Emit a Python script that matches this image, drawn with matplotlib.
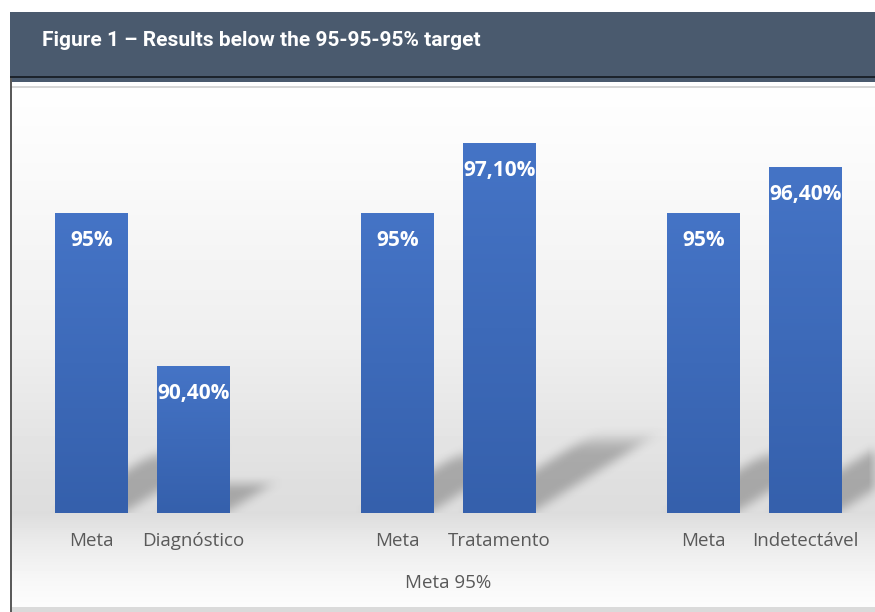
import numpy as np
import matplotlib
matplotlib.use('Agg')
import matplotlib.pyplot as plt
from matplotlib.colors import LinearSegmentedColormap
from matplotlib.patches import Rectangle

# 数据
title = 'Figure 1 – Results below the 95-95-95% target'
categories = ['Meta', 'Diagnóstico', 'Meta', 'Tratamento', 'Meta', 'Indetectável']
values = [95, 90.4, 95, 97.1, 95, 96.4]
value_labels = ['95%', '90,40%', '95%', '97,10%', '95%', '96,40%']
axis_title = 'Meta 95%'
y_base = 86

W, H = 875, 612


def fx(x):
    return x / W


def fy(y):
    return 1 - y / H


def box(fig, x0, y0, x1, y1, color, z=1):
    fig.patches.append(Rectangle((fx(x0), fy(y1)), fx(x1) - fx(x0), fy(y0) - fy(y1),
                                 transform=fig.transFigure, color=color, lw=0, zorder=z))


def smooth(s):
    s = np.clip(s, 0, 1)
    return s * s * (3 - 2 * s)


def blur(img, k=13):
    # 简单的盒式模糊
    kern = np.ones(k) / k
    img = np.apply_along_axis(lambda r: np.convolve(r, kern, mode='same'), 1, img)
    img = np.apply_along_axis(lambda c: np.convolve(c, kern, mode='same'), 0, img)
    return img


fig = plt.figure(figsize=(W / 100, H / 100), dpi=100)
fig.patch.set_facecolor('white')

# 标题栏
box(fig, 10, 12, 875, 82, '#4a5a6e')
box(fig, 10, 75.5, 875, 78, '#1c232c')
box(fig, 10, 78, 12, 612, '#5a5a5a')
box(fig, 12, 85.5, 875, 88, '#d6d6d6')
box(fig, 12, 607, 875, 612, '#dadada')
fig.text(fx(42), fy(41), title, ha='left', va='center', color='white',
         fontweight='bold', family='Roboto', fontsize=15, zorder=5)

# 背景渐变
bg = fig.add_axes([fx(12), fy(607), fx(875) - fx(12), fy(88) - fy(607)], zorder=0)
bg.axis('off')
rows = np.arange(88, 607)
gray = np.interp(rows, [88, 200, 350, 480, 513, 540, 580, 607],
                 [254, 248, 238, 223, 221, 234, 247, 252])
bg.imshow(gray.reshape(-1, 1), cmap='gray', vmin=0, vmax=255, aspect='auto',
          extent=[0, 1, 0, 1])
bg.set_xlim(0, 1)
bg.set_ylim(0, 1)

# 主图
ax = fig.add_axes([fx(12), fy(513), fx(875) - fx(12), fy(88) - fy(513)], zorder=1)
ax.patch.set_alpha(0)
for s in ax.spines.values():
    s.set_visible(False)

positions = [3 * (i // 2) + i % 2 for i in range(len(values))]
width = 0.706
xlim = (-0.777, 7.683)
ylim = (y_base, y_base + 425 / 33.26)

# 阴影
nx, ny = 863, 425
X = np.linspace(xlim[0], xlim[1], nx)
Y = np.linspace(ylim[1], ylim[0], ny)
XX, YY = np.meshgrid(X, Y)
alpha = np.zeros_like(XX)
for p, v in zip(positions, values):
    h = v - y_base
    dx = 0.12 * h
    dy = 0.23 * h
    t = (YY - y_base) / dy
    u = (XX - (p - width / 2) - t * dx) / width
    a = (smooth((u + 0.1) / 0.3) * smooth((1.1 - u) / 0.3)
         * (1 - smooth((t - 0.7) / 0.3)) * (t >= 0))
    alpha = np.maximum(alpha, a)
alpha = blur(alpha)
shadow = np.zeros((ny, nx, 4))
shadow[..., :3] = 0.3
shadow[..., 3] = alpha * 0.38
ax.imshow(shadow, extent=[xlim[0], xlim[1], ylim[0], ylim[1]], aspect='auto', zorder=1)

# 柱子
bar_cmap = LinearSegmentedColormap.from_list('bar', ['#4574c6', '#3560ac'])
ax.bar(positions, [v - y_base for v in values], bottom=y_base, width=width,
       color='#3d68b8', zorder=2)
grad = np.linspace(0, 1, 200).reshape(-1, 1)
for p, v, lbl in zip(positions, values, value_labels):
    ax.imshow(grad, cmap=bar_cmap, extent=[p - width / 2, p + width / 2, y_base, v],
              aspect='auto', zorder=3)
    ax.annotate(lbl, (p, v), xytext=(0, -27), textcoords='offset pixels',
                ha='center', va='center', color='white', fontweight='bold',
                family='Open Sans', fontsize=15, zorder=5)

ax.set_xlim(*xlim)
ax.set_ylim(*ylim)
ax.set_yticks([])
ax.set_xticks(positions)
ax.set_xticklabels(categories, fontsize=13.5, color='#595959', family='Open Sans')
ax.tick_params(axis='x', length=0, pad=20)
for lab in ax.get_xticklabels():
    lab.set_va('center')

ax.annotate(axis_title, (3.5, y_base), xytext=(0, -70), textcoords='offset pixels',
            ha='center', va='center', color='#595959', fontsize=13.5,
            family='Open Sans', annotation_clip=False)

fig.savefig('out.png', dpi=100)
